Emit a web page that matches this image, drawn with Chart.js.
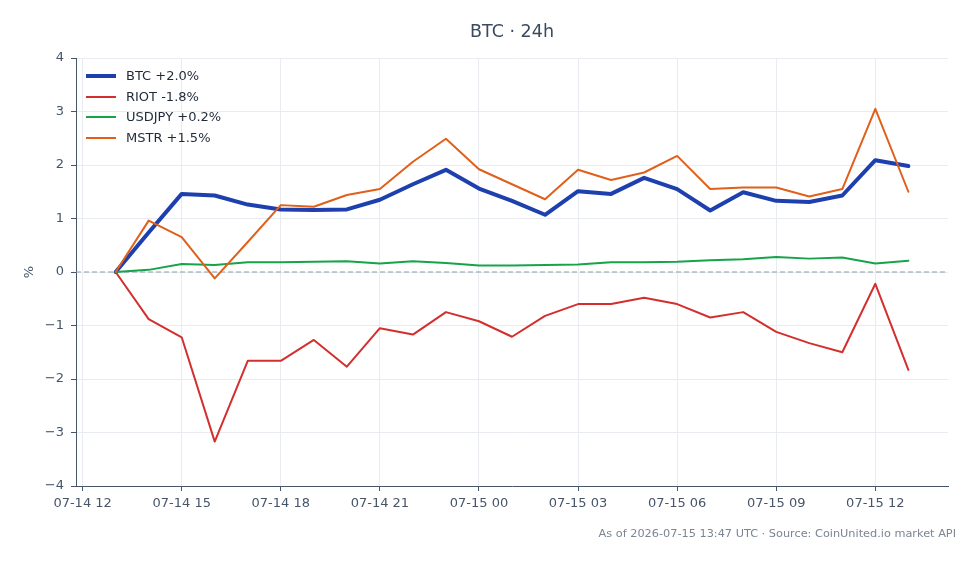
<!DOCTYPE html>
<html>
<head>
<meta charset="utf-8">
<script src="https://cdn.jsdelivr.net/npm/chart.js@4.4.1/dist/chart.umd.min.js"></script>
<style>
  html, body { margin: 0; padding: 0; background: #ffffff; }
  #wrap { position: relative; width: 980px; height: 564px; }
</style>
</head>
<body>
<div id="wrap"><canvas id="c" width="980" height="564"></canvas></div>
<script>
// ---- data (hours since 07-14 12:00 UTC) ----
const hourOffsets = [1,2,3,4,5,6,7,8,9,10,11,12,13,14,15,16,17,18,19,20,21,22,23,24,25];
const xTickLabels = ["07-14 12","07-14 15","07-14 18","07-14 21","07-15 00","07-15 03","07-15 06","07-15 09","07-15 12"];
const seriesNames = ["BTC +2.0%","RIOT -1.8%","USDJPY +0.2%","MSTR +1.5%"];
const btc    = [0, 0.74, 1.46, 1.43, 1.26, 1.17, 1.16, 1.17, 1.35, 1.64, 1.91, 1.56, 1.33, 1.07, 1.51, 1.46, 1.76, 1.55, 1.15, 1.49, 1.33, 1.31, 1.43, 2.09, 1.98];
const riot   = [0, -0.88, -1.22, -3.17, -1.66, -1.66, -1.27, -1.77, -1.05, -1.17, -0.75, -0.92, -1.21, -0.82, -0.60, -0.60, -0.48, -0.60, -0.85, -0.75, -1.12, -1.33, -1.50, -0.22, -1.83];
const usdjpy = [0, 0.04, 0.15, 0.13, 0.18, 0.18, 0.19, 0.20, 0.16, 0.20, 0.17, 0.12, 0.12, 0.13, 0.14, 0.18, 0.18, 0.19, 0.22, 0.24, 0.28, 0.25, 0.27, 0.16, 0.21];
const mstr   = [0, 0.96, 0.65, -0.12, 0.56, 1.25, 1.22, 1.44, 1.55, 2.06, 2.49, 1.92, 1.64, 1.36, 1.91, 1.72, 1.86, 2.17, 1.55, 1.58, 1.58, 1.41, 1.55, 3.05, 1.50];
const yTickValues = [-4,-3,-2,-1,0,1,2,3,4];

const FONT = "'DejaVu Sans', 'Liberation Sans', sans-serif";
const colors = ["#1e40af", "#d32f2f", "#16a34a", "#e0601a"];
const widths = [4, 2, 2, 2];
const allSeries = [btc, riot, usdjpy, mstr];

const toPts = arr => arr.map((v, i) => ({ x: hourOffsets[i], y: v }));

const datasets = allSeries.map((arr, i) => ({
  label: seriesNames[i],
  data: toPts(arr),
  borderColor: colors[i],
  backgroundColor: colors[i],
  borderWidth: widths[i],
  pointRadius: 0,
  tension: 0,
  borderJoinStyle: 'round',
  borderCapStyle: 'round',
  order: 4 - i
}));

const overlay = {
  id: 'overlay',
  beforeDatasetsDraw(chart) {
    const { ctx, chartArea, scales } = chart;
    const y0 = scales.y.getPixelForValue(0);
    ctx.save();
    ctx.strokeStyle = '#8f9bb0';
    ctx.lineWidth = 1;
    ctx.setLineDash([5, 3]);
    ctx.beginPath();
    ctx.moveTo(chartArea.left, y0);
    ctx.lineTo(chartArea.right, y0);
    ctx.stroke();
    ctx.restore();
  },
  afterDraw(chart) {
    const { ctx } = chart;
    ctx.save();
    // title
    ctx.fillStyle = '#3b4a5e';
    ctx.font = "17.5px " + FONT;
    ctx.textAlign = 'center';
    ctx.textBaseline = 'middle';
    ctx.fillText('BTC · 24h', 512, 32);
    // legend
    const rows = [76, 97, 117, 138];
    ctx.font = "13px " + FONT;
    ctx.textAlign = 'left';
    ctx.textBaseline = 'middle';
    seriesNames.forEach((name, i) => {
      ctx.strokeStyle = colors[i];
      ctx.lineWidth = widths[i];
      ctx.setLineDash([]);
      ctx.lineCap = 'butt';
      ctx.beginPath();
      ctx.moveTo(86, rows[i]);
      ctx.lineTo(116, rows[i]);
      ctx.stroke();
      ctx.fillStyle = '#1f2937';
      ctx.fillText(name, 126, rows[i] + 0.5);
    });
    // footer
    ctx.fillStyle = '#7b8594';
    ctx.font = "11.3px " + FONT;
    ctx.textAlign = 'right';
    ctx.fillText('As of 2026-07-15 13:47 UTC · Source: CoinUnited.io market API', 956, 534);
    ctx.restore();
  }
};

new Chart(document.getElementById('c'), {
  type: 'line',
  data: { datasets },
  options: {
    responsive: false,
    animation: false,
    devicePixelRatio: 1,
    layout: { padding: { top: 58, right: 32, bottom: 0, left: 0 } },
    plugins: { legend: { display: false }, tooltip: { enabled: false }, title: { display: false } },
    scales: {
      x: {
        type: 'linear',
        min: -0.2,
        max: 26.2,
        afterFit: s => { s.height = 78; },
        border: { display: true, color: '#475569', width: 1 },
        grid: { color: '#e8ecf1', lineWidth: 1, drawTicks: true, tickLength: 5, tickColor: '#475569' },
        ticks: {
          stepSize: 3,
          includeBounds: false,
          autoSkip: false,
          maxRotation: 0,
          padding: 5,
          color: '#475569',
          font: { family: FONT, size: 13 },
          callback: v => {
            const idx = Math.round(v / 3);
            return (Math.abs(v - idx * 3) < 1e-6 && xTickLabels[idx] !== undefined) ? xTickLabels[idx] : '';
          }
        }
      },
      y: {
        min: -4,
        max: 4,
        afterFit: s => { s.width = 76; },
        afterBuildTicks: s => { s.ticks = yTickValues.map(v => ({ value: v })); },
        border: { display: true, color: '#475569', width: 1 },
        grid: { color: '#e8ecf1', lineWidth: 1, drawTicks: true, tickLength: 5, tickColor: '#475569' },
        title: { display: true, text: '%', color: '#475569', font: { family: FONT, size: 13 }, padding: { top: 22, bottom: 0 } },
        ticks: {
          stepSize: 1,
          padding: 7,
          color: '#475569',
          font: { family: FONT, size: 13 },
          callback: v => (v < 0 ? '\u2212' + Math.abs(v) : String(v))
        }
      }
    }
  },
  plugins: [overlay]
});
</script>
</body>
</html>
